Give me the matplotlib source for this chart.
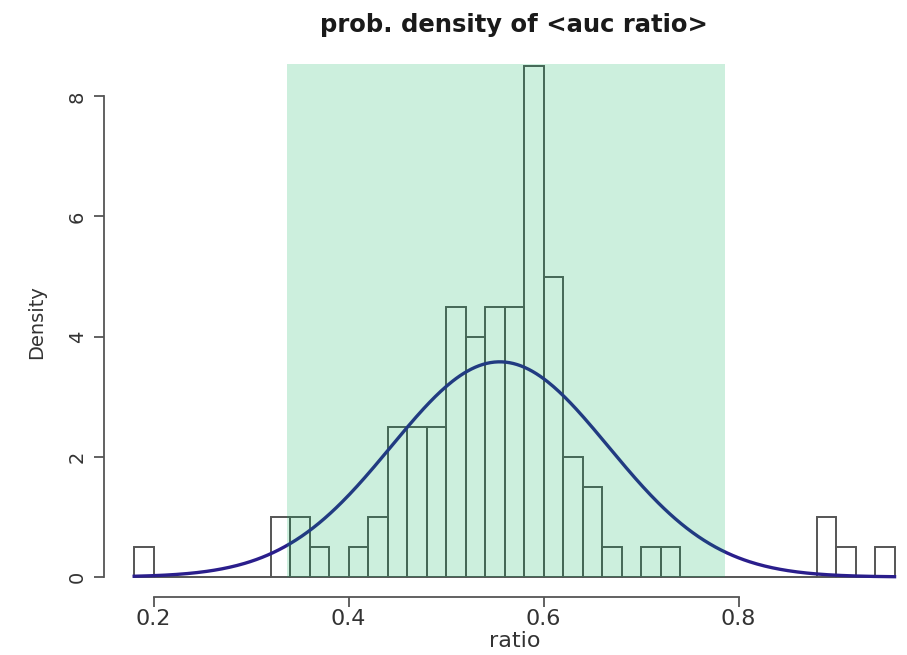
"""Histogram of auc ratio with fitted normal curve, R base-graphics look."""

import numpy as np
import matplotlib.pyplot as plt
from matplotlib.patches import Rectangle

# histogram bins (width 0.02) and densities
bin_edges = np.round(np.arange(0.18, 0.9601, 0.02), 2)
density = [0.5, 0, 0, 0, 0, 0, 0, 1.0, 1.0, 0.5, 0, 0.5, 1.0, 2.5, 2.5, 2.5,
           4.5, 4.0, 4.5, 4.5, 8.5, 5.0, 2.0, 1.5, 0.5, 0, 0.5, 0.5, 0, 0,
           0, 0, 0, 0, 0, 1.0, 0.5, 0, 0.5]

# fitted normal curve
fit_mean = 0.555
fit_sd = 0.1114

# shaded interval
shade_lo = 0.3367
shade_hi = 0.7864
shade_top = 8.54

x_ticks = [0.2, 0.4, 0.6, 0.8]
y_ticks = [0, 2, 4, 6, 8]

axis_grey = "#555555"

fig = plt.figure(figsize=(9.07, 6.55), dpi=100)
ax = fig.add_axes([0.1144, 0.0879, 0.9054, 0.8421])

ax.bar(bin_edges[:-1], density, width=0.02, align="edge", fill=False,
       edgecolor="#555555", linewidth=1.4, zorder=2)

xs = np.linspace(bin_edges[0], bin_edges[-1], 400)
pdf = np.exp(-0.5 * ((xs - fit_mean) / fit_sd) ** 2) / (fit_sd * np.sqrt(2 * np.pi))
ax.plot(xs, pdf, color="#2a1e8c", linewidth=2.4, zorder=3)

ax.add_patch(Rectangle((shade_lo, 0), shade_hi - shade_lo, shade_top,
                       facecolor=(0.0, 0.7, 0.35), alpha=0.2,
                       edgecolor="none", zorder=4))

ax.set_xlim(0.1488, 0.9912)
ax.set_ylim(-0.34, 8.84)

for side in ["top", "right"]:
    ax.spines[side].set_visible(False)
ax.spines["left"].set_bounds(0, 8)
ax.spines["bottom"].set_bounds(0.2, 0.8)
for side in ["left", "bottom"]:
    ax.spines[side].set_color(axis_grey)
    ax.spines[side].set_linewidth(1.3)

ax.set_xticks(x_ticks)
ax.set_xticklabels([str(t) for t in x_ticks], fontsize=16, color="#333333")
ax.set_yticks(y_ticks)
ax.set_yticklabels([str(t) for t in y_ticks], fontsize=14, rotation=90,
                   va="center", color="#333333")
ax.tick_params(axis="both", direction="out", length=7, width=1.3,
               color=axis_grey)
ax.tick_params(axis="x", pad=1)
ax.tick_params(axis="y", pad=5)

ax.set_xlabel("ratio", fontsize=16, color="#333333", labelpad=2)
ax.set_ylabel("Density", fontsize=14, color="#333333")
ax.yaxis.set_label_coords(-0.07, 0.5)
ax.set_title("prob. density of <auc ratio>", fontsize=17.5, fontweight="bold",
             color="#1a1a1a", pad=10)

fig.savefig("out.png", dpi=100)
